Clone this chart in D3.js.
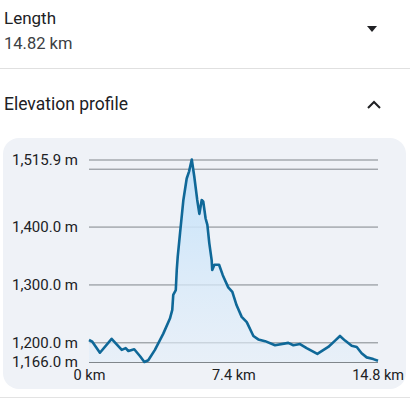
<!DOCTYPE html>
<html>
<head>
<meta charset="utf-8">
<script src="https://cdn.jsdelivr.net/npm/d3@7"></script>
<style>
  html, body { margin: 0; padding: 0; background: #fff; }
  body { width: 410px; height: 408px; overflow: hidden; font-family: Roboto, "Noto Sans", sans-serif; }
  svg text { font-family: Roboto, "Noto Sans", sans-serif; }
  .grid line { stroke: #80868b; stroke-width: 1; }
  .grid .domain { display: none; }
  .grid text { fill: #202124; font-size: 15px; }
  .x.axis .domain, .x.axis line { display: none; }
  .x.axis text { fill: #202124; font-size: 14.5px; }
</style>
</head>
<body>
<svg id="main-chart" width="410" height="408"></svg>
<script>
// distance along route (km) and elevation (m)
var distKm = [0, 0.17, 0.56, 1.16, 1.68, 1.88, 2.02, 2.32, 2.62, 2.84, 3.04, 3.38, 3.81, 4.15,
  4.27, 4.32, 4.45, 4.50, 4.55, 4.67, 4.84, 5.01, 5.13, 5.27, 5.40, 5.55, 5.66, 5.78, 5.86,
  5.98, 6.07, 6.17, 6.29, 6.32, 6.43, 6.67, 6.86, 7.14, 7.35, 7.57, 7.83, 8.09, 8.43, 8.68,
  9.03, 9.54, 10.22, 10.48, 10.82, 11.16, 11.71, 12.27, 12.62, 12.87, 13.13, 13.47, 13.73,
  13.98, 14.24, 14.58, 14.82];
var elevM = [1204, 1201, 1182, 1206, 1187, 1190, 1185, 1188, 1176, 1166, 1169, 1187, 1215, 1241,
  1256, 1282, 1290, 1325, 1348, 1389, 1446, 1483, 1495, 1515.9, 1486, 1446, 1422, 1446, 1443,
  1414, 1403, 1371, 1342, 1325, 1334, 1334, 1316, 1295, 1287, 1264, 1244, 1235, 1211, 1205,
  1202, 1195, 1199, 1195, 1197, 1190, 1180, 1192, 1203, 1211, 1203, 1194, 1192,
  1181, 1174, 1171, 1168];

var yTicks = [1166, 1200, 1300, 1400, 1500, 1515.9];
var yLabelled = [1166, 1200, 1300, 1400, 1515.9];
var xTicks = [0, 7.4, 14.8];
var totalKm = 14.82;

var svg = d3.select("#main-chart");

// header text
svg.append("text").attr("x", 4).attr("y", 24).attr("font-size", 17).attr("fill", "#202124").text("Length");
svg.append("text").attr("x", 4).attr("y", 49).attr("font-size", 16.5).attr("fill", "#3c4043").text("14.82 km");
svg.append("path").attr("d", "M367,26 L377,26 L372,32 Z").attr("fill", "#202124");
svg.append("line").attr("x1", 0).attr("x2", 410).attr("y1", 68.5).attr("y2", 68.5)
  .attr("stroke", "#e0e0e0");
svg.append("text").attr("x", 4).attr("y", 110).attr("font-size", 17.5)
  .attr("fill", "#202124").text("Elevation profile");
svg.append("path").attr("d", "M368,108 L374,102 L380,108").attr("fill", "none")
  .attr("stroke", "#202124").attr("stroke-width", 2);

// card
svg.append("rect").attr("x", 3).attr("y", 138).attr("width", 403).attr("height", 251)
  .attr("rx", 16).attr("fill", "#eff2f7");
svg.append("line").attr("x1", 0).attr("x2", 410).attr("y1", 397.5).attr("y2", 397.5)
  .attr("stroke", "#e3e3e3");

var plotL = 89, plotR = 378, plotT = 159.5, plotB = 362;

var xScale = d3.scaleLinear().domain([0, totalKm]).range([plotL, plotR]);
var yScale = d3.scaleLinear().domain([1166, 1515.9]).range([plotB, plotT]);

var fmtM = d => yLabelled.indexOf(d) >= 0 ? d3.format(",.1f")(d) + " m" : "";

var yAxis = d3.axisLeft(yScale)
  .tickValues(yTicks)
  .tickSize(-(plotR - plotL))
  .tickPadding(11)
  .tickFormat(fmtM);

svg.append("g")
  .attr("class", "grid")
  .attr("transform", `translate(${plotL},0)`)
  .call(yAxis);

var defs = svg.append("defs");
var grad = defs.append("linearGradient").attr("id", "fillGrad")
  .attr("x1", 0).attr("y1", 0).attr("x2", 0).attr("y2", 1);
grad.append("stop").attr("offset", "0%").attr("stop-color", "#c4e2fa").attr("stop-opacity", 1);
grad.append("stop").attr("offset", "100%").attr("stop-color", "#e3eef9").attr("stop-opacity", 0.6);

var pts = distKm.map((d, i) => ({ km: d, m: elevM[i] }));

var area = d3.area()
  .x(d => xScale(d.km))
  .y0(plotB)
  .y1(d => yScale(d.m));

var line = d3.line()
  .x(d => xScale(d.km))
  .y(d => yScale(d.m));

svg.append("path").datum(pts).attr("d", area).attr("fill", "url(#fillGrad)");
svg.append("path").datum(pts).attr("d", line)
  .attr("fill", "none").attr("stroke", "#0f6898").attr("stroke-width", 2.6)
  .attr("stroke-linejoin", "round");

var xAxis = d3.axisBottom(xScale)
  .tickValues(xTicks)
  .tickSize(0)
  .tickPadding(8)
  .tickFormat(d => d + " km");

svg.append("g")
  .attr("class", "x axis")
  .attr("transform", `translate(0,${plotB})`)
  .call(xAxis);
</script>
</body>
</html>
